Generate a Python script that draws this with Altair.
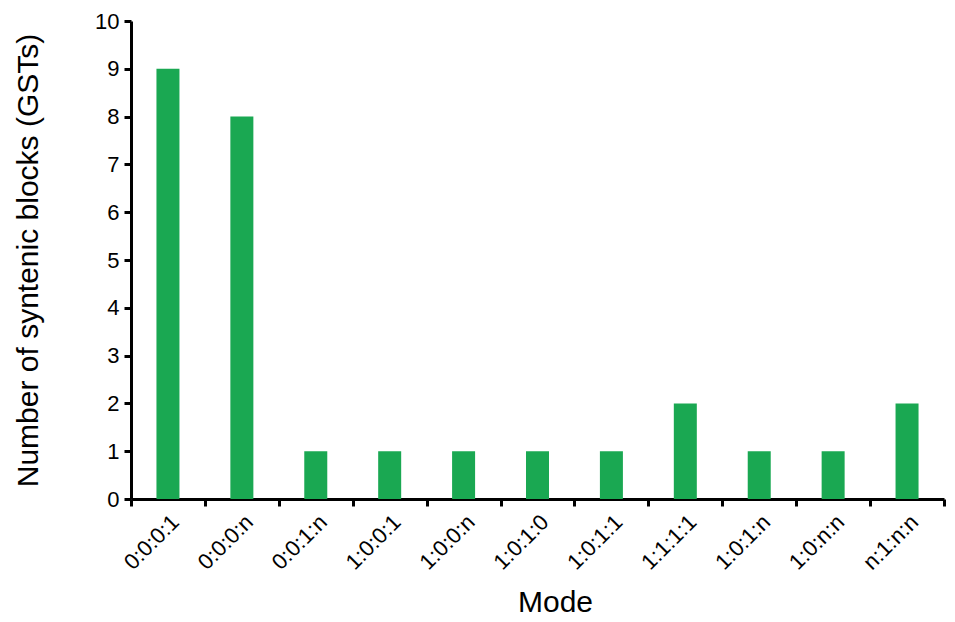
import altair as alt
import pandas as pd

modes = ["0:0:0:1", "0:0:0:n", "0:0:1:n", "1:0:0:1", "1:0:0:n", "1:0:1:0",
         "1:0:1:1", "1:1:1:1", "1:0:1:n", "1:0:n:n", "n:1:n:n"]
counts = [9, 8, 1, 1, 1, 1, 1, 2, 1, 1, 2]

df = pd.DataFrame({"Mode": modes, "Count": counts})

chart = alt.Chart(df).mark_bar(size=23, color="#1aa852").encode(
    x=alt.X("Mode:N", sort=modes,
            scale=alt.Scale(paddingInner=0, paddingOuter=0),
            axis=alt.Axis(title="Mode", labelAngle=-45, labelFontSize=22,
                          titleFontSize=30, titleFontWeight="normal",
                          titleX=424,
                          tickBand="extent", tickSize=7, tickWidth=3,
                          domainWidth=3, domainColor="black", tickColor="black",
                          labelColor="black", titleColor="black",
                          labelPadding=5, titlePadding=14)),
    y=alt.Y("Count:Q", scale=alt.Scale(domain=[0, 10]),
            axis=alt.Axis(title="Number of syntenic blocks (GSTs)",
                          values=list(range(0, 11)), labelFontSize=22,
                          titleFontSize=30, titleFontWeight="normal",
                          tickSize=7, tickWidth=3, domainWidth=3,
                          domainColor="black", tickColor="black",
                          labelColor="black", titleColor="black",
                          grid=False, labelPadding=5, titlePadding=51)),
).properties(
    width=813, height=478,
    padding={"left": 5, "top": 2, "right": 0, "bottom": 0},
).configure(
    font="Liberation Sans"
).configure_view(stroke=None).configure_axis(grid=False)

chart.save("out.html", embed_options={"renderer": "svg", "actions": False})
